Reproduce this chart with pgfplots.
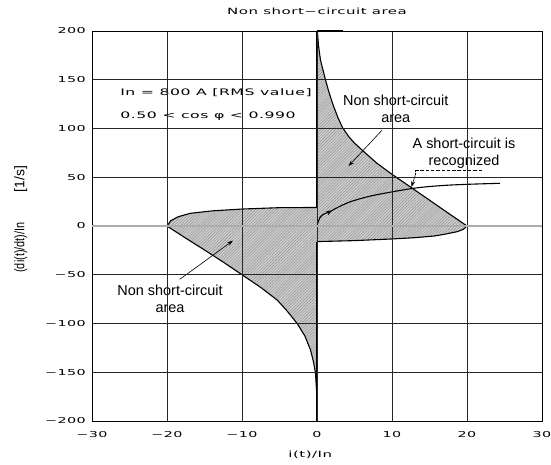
\documentclass[border=0pt]{standalone}
\usepackage{fontspec}
\setmainfont{Liberation Sans}
\newfontfamily\hfont[FakeStretch=1.75,LetterSpace=6]{DejaVu Sans}
\newfontfamily\nfont[FakeStretch=0.78]{Liberation Sans}
\usepackage{pgfplots}
\pgfplotsset{compat=1.18}
\usetikzlibrary{patterns.meta,arrows.meta,decorations.markings}

\tikzset{
  hatch/.style={fill=gray!40, draw=none,
    postaction={pattern={Lines[angle=45,distance=2.1pt,line width=0.45pt]}, pattern color=gray!85}},
  note/.style={font=\fontsize{14.5}{16.5}\selectfont, align=center},
  pt/.style={-{Stealth[length=6pt,width=4pt]}, line width=0.6pt},
}

\begin{document}
\begin{tikzpicture}
\begin{axis}[
    width=450bp, height=390bp, scale only axis,
    xmin=-30, xmax=30, ymin=-200, ymax=200,
    axis on top,
    xtick={-30,-20,...,30},
    xticklabels={−30,−20,−10,0,10,20,30},
    ytick={-200,-150,-100,-50,50,100,150,200},
    yticklabels={−200,−150,−100,−50,50,100,150,200},
    extra y ticks={0}, extra y tick labels={0},
    extra y tick style={grid style={gray!65, line width=1.3pt}},
    grid=major,
    grid style={black!85, line width=0.6pt},
    axis line style={black, line width=0.6pt},
    major tick length=0pt,
    ticklabel style={font=\hfont\fontsize{8.2}{9}\selectfont},
    xticklabel style={anchor=north, inner sep=0pt, yshift=-10.5bp},
    yticklabel style={anchor=east, inner sep=0pt, xshift=-6bp},
    title={Non short−circuit area},
    title style={at={(0.5,1)}, anchor=center, yshift=13.8bp, inner sep=0pt,
      font=\hfont\fontsize{8.6}{10}\selectfont},
    xlabel={i(t)/In},
    xlabel style={at={(0.485,0)}, anchor=center, yshift=-34bp, inner sep=0pt,
      font=\hfont\fontsize{8.6}{10}\selectfont},
    ylabel={{\nfont\fontsize{14}{15}\selectfont (di(t)/dt)/In}\hspace{30bp}{\fontsize{14}{15}\selectfont [1/s]}},
    ylabel style={at={(0,0.517)}, anchor=center, yshift=71.3bp, inner sep=0pt},
  ]
% right non short-circuit area
\addplot[hatch] coordinates {
  (0,-16) (5,-15) (10,-13.3) (13,-12) (15.6,-10.3) (17,-8.5) (18.7,-5.8)
  (19.5,-3.5) (20,0) (17.5,13.2) (15,26.5) (12.5,39.8) (10,53) (8,64.3)
  (6.5,74.5) (5,85) (4.2,92) (3.4,101) (2.8,111) (2.2,123) (1.6,137)
  (1.13,150) (0.8,160) (0.47,170) (0.2,185) (0.05,200) (0,200)
} -- cycle;
% left non short-circuit area
\addplot[hatch] coordinates {
  (0,19) (-5,18.8) (-10,17.4) (-14,15.5) (-16.9,13) (-18.5,9.5) (-19.5,5.4)
  (-20,0) (-17.5,-12.5) (-15,-24.6) (-12.5,-37) (-10,-50) (-7.5,-63)
  (-5.3,-76) (-4,-87) (-2.64,-100) (-1.6,-113) (-0.87,-127) (-0.45,-140)
  (-0.2,-151) (-0.05,-170) (0,-178) (0,-200)
} -- cycle;
% boundaries
\addplot[black, line width=1.1pt] coordinates {
  (0.05,200) (0.2,185) (0.47,170) (0.8,160) (1.13,150) (1.6,137) (2.2,123)
  (2.8,111) (3.4,101) (4.2,92) (5,85) (6.5,74.5) (8,64.3) (10,53)
  (12.5,39.8) (15,26.5) (17.5,13.2) (20,0)
  (19.5,-3.5) (18.7,-5.8) (17,-8.5) (15.6,-10.3) (13,-12) (10,-13.3)
  (5,-15) (0,-16)
};
\addplot[black, line width=1.1pt] coordinates {
  (0,19) (-5,18.8) (-10,17.4) (-14,15.5) (-16.9,13) (-18.5,9.5) (-19.5,5.4)
  (-20,0) (-17.5,-12.5) (-15,-24.6) (-12.5,-37) (-10,-50) (-7.5,-63)
  (-5.3,-76) (-4,-87) (-2.64,-100) (-1.6,-113) (-0.87,-127) (-0.45,-140)
  (-0.2,-151) (-0.05,-170) (0,-178)
};
\addplot[black, line width=2.4pt] coordinates {(0,19) (0,200)};
\addplot[black, line width=2.4pt] coordinates {(0,-200) (0,-16)};
\addplot[black, line width=2pt] coordinates {(0,200) (3.5,200)};
% trajectory
\addplot[black, line width=1.1pt, smooth,
  postaction={decorate},
  decoration={markings, mark=at position 0.12 with {\arrow{Stealth[length=6pt,width=4.5pt]}}}]
  coordinates {
  (0,0) (0.15,4) (0.47,9.6) (1.0,12.5) (1.7,14.7) (3,20) (4.5,25) (7,30.5)
  (10,35) (12.7,38.5) (15,40.5) (17.8,42) (21,43) (24.4,43.8)
};
% annotations
\node[anchor=west, font=\hfont\fontsize{9}{10}\selectfont] at (axis cs:-26.7,136.7) {In = 800 A [RMS value]};
\node[anchor=west, font=\hfont\fontsize{9}{10}\selectfont] at (axis cs:-26.7,112.8) {0.50 < cos φ < 0.990};
\node[note] at (axis cs:10.5,120.3) {Non short-circuit\\area};
\draw[pt] (axis cs:8.7,98.5) -- (axis cs:4.2,61.5);
\node[note] at (axis cs:-19.6,-74.5) {Non short-circuit\\area};
\draw[pt] (axis cs:-18.3,-54.7) -- (axis cs:-11.2,-15);
\node[note] at (axis cs:19.6,74.5) {A short-circuit is\\recognized};
\draw[black, line width=1.1pt, dash pattern=on 3.5pt off 1.8pt]
  (axis cs:22,56.7) -- (axis cs:13.1,56.7) -- (axis cs:13.1,52);
\draw[pt] (axis cs:13.1,52) -- (axis cs:12.6,40);
\end{axis}
\pgfresetboundingbox
\path (-92bp,-44bp) rectangle (459bp,421bp);
\end{tikzpicture}
\end{document}
